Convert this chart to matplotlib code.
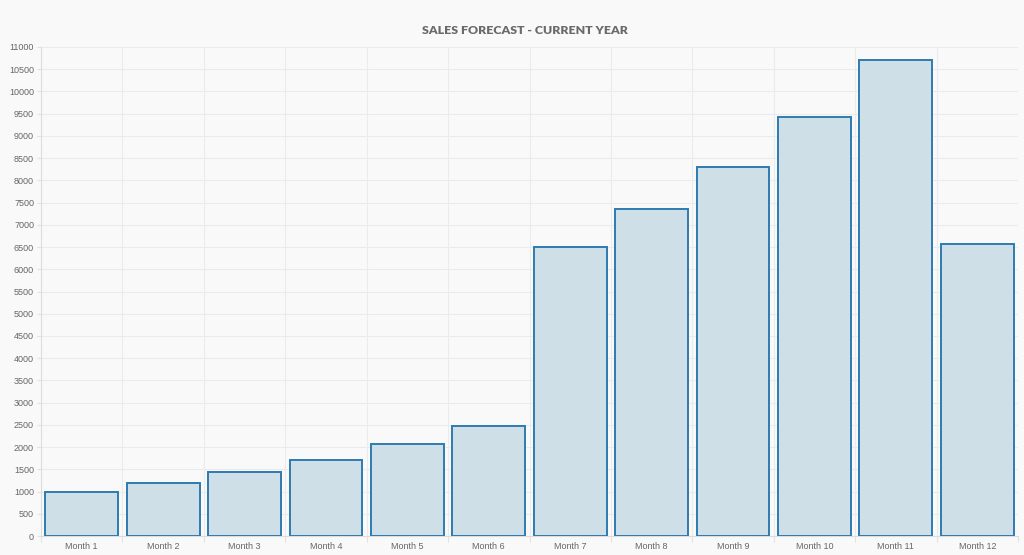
import matplotlib
matplotlib.use("Agg")
import matplotlib.pyplot as plt
import numpy as np

categories = ["Month 1", "Month 2", "Month 3", "Month 4", "Month 5", "Month 6",
              "Month 7", "Month 8", "Month 9", "Month 10", "Month 11", "Month 12"]
sales = [1000, 1200, 1430, 1710, 2070, 2475, 6490, 7345, 8310, 9430, 10715, 6575]
title = "SALES FORECAST - CURRENT YEAR"
y_ticks = list(range(0, 11001, 500))

bg = "#f9f9f9"
fig = plt.figure(figsize=(10.24, 5.55), dpi=100, facecolor=bg)
ax = fig.add_axes([41/1024, 1-536/555, 977/1024, 489/555], facecolor=bg)

x = np.arange(len(categories))
ax.bar(x, sales, width=0.895, color="#cfdfe7", edgecolor="#2e7bb0", linewidth=1.4, zorder=3)

ax.set_xlim(-0.5, len(categories) - 0.5)
ax.set_ylim(0, 11000)
ax.set_yticks(y_ticks)
ax.set_yticklabels([str(v) for v in y_ticks])
ax.set_xticks(x)
ax.set_xticklabels(categories)
ax.set_xticks(np.arange(len(categories) + 1) - 0.5, minor=True)

ax.tick_params(axis="x", which="major", length=0, pad=4, labelsize=6.5, labelcolor="#666666")
ax.tick_params(axis="x", which="minor", length=4, color="#e3e3e3", width=0.8)
ax.tick_params(axis="y", which="major", length=3, color="#e3e3e3", width=0.8, pad=2,
               labelsize=6.5, labelcolor="#666666")
for lbl in ax.get_xticklabels() + ax.get_yticklabels():
    lbl.set_family(["Liberation Sans", "DejaVu Sans"])

ax.grid(axis="y", which="major", color="#ebebeb", linewidth=0.8, zorder=0)
ax.grid(axis="x", which="minor", color="#ebebeb", linewidth=0.8, zorder=0)
ax.grid(axis="x", which="major", visible=False)

for side in ["top", "right"]:
    ax.spines[side].set_visible(False)
for side in ["left", "bottom"]:
    ax.spines[side].set_color("#dddddd")
    ax.spines[side].set_linewidth(0.8)

fig.text(525/1024, 1-31/555, title, ha="center", va="center", fontsize=8.9,
         fontweight="heavy", color="#6a6a6a", family=["Lato", "DejaVu Sans"])

fig.savefig("out.png", dpi=100, facecolor=bg)
